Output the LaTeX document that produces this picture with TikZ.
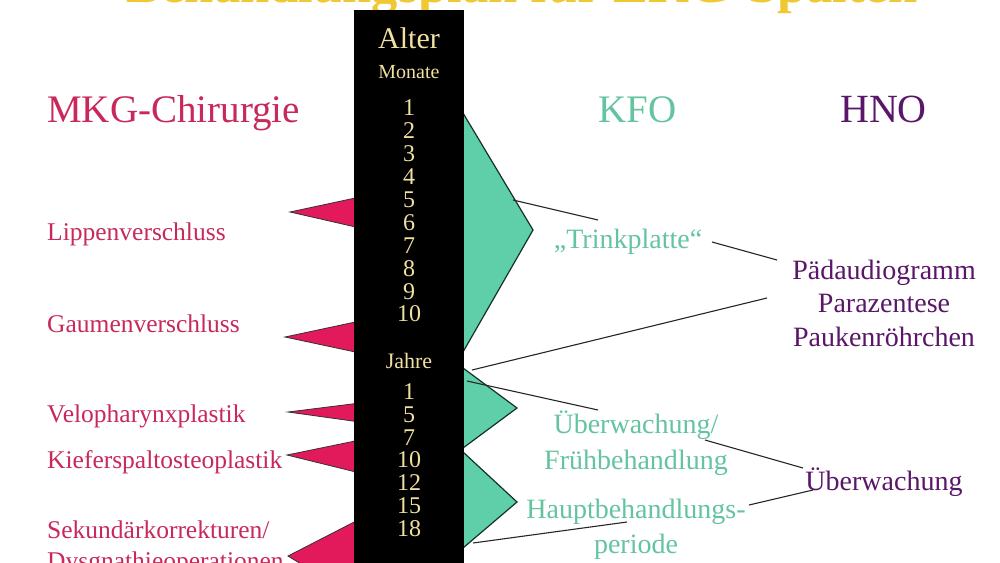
\documentclass[tikz,border=0pt]{standalone}
\usepackage{fontspec}
\setmainfont{Liberation Serif}
\definecolor{mkgtext}{RGB}{200,40,90}
\definecolor{trifill}{RGB}{226,26,92}
\definecolor{kfofill}{RGB}{95,207,170}
\definecolor{kfotext}{RGB}{100,196,160}
\definecolor{hnotext}{RGB}{90,22,105}
\definecolor{cream}{RGB}{240,225,160}
\definecolor{titleyellow}{RGB}{240,200,50}
\definecolor{darkline}{RGB}{20,50,35}
\begin{document}
\begin{tikzpicture}[x=1pt,y=-1pt,
  lbl/.style={inner sep=0pt, anchor=base west, font=\fontsize{25.5}{27}\selectfont},
  mkg/.style={lbl, text=mkgtext},
  kfolbl/.style={inner sep=0pt, anchor=base, align=center, font=\fontsize{28}{32}\selectfont, text=kfotext},
  hnolbl/.style={inner sep=0pt, anchor=base, align=center, font=\fontsize{28}{32}\selectfont, text=hnotext},
  head/.style={inner sep=0pt, anchor=base west, font=\fontsize{39}{40}\selectfont},
  num/.style={inner sep=0pt, text=cream, font=\fontsize{24}{24}\selectfont},
  tri/.style={fill=trifill, draw=black!80, line width=0.8pt},
  kfoshape/.style={fill=kfofill, draw=darkline, line width=1.2pt},
  conn/.style={draw=black!85, line width=1.1pt}]
\useasboundingbox (0,0) rectangle (1000,562);
\begin{scope}
\clip (0,0) rectangle (1000,562);
\fill[white] (0,0) rectangle (1000,562);
% title (cut off at the top)
\node[inner sep=0pt, anchor=base, text=titleyellow, font=\bfseries\fontsize{52.5}{52}\selectfont] (title) at (522,2) {Behandlungsplan für LKG-Spalten};
% magenta wedges
\path[tri] (360,197) -- (290,212) -- (360,228) -- cycle;
\path[tri] (360,321) -- (285,337) -- (360,353) -- cycle;
\path[tri] (360,403) -- (288,412) -- (360,422) -- cycle;
\path[tri] (360,440) -- (287,455) -- (360,473) -- cycle;
\path[tri] (360,519) -- (288,556) -- (360,600) -- cycle;
% teal wedges
\path[kfoshape] (463,113) -- (533,230) -- (463,352) -- (455,352) -- (455,113) -- cycle;
\path[kfoshape] (463,368) -- (517,408) -- (463,448) -- (455,448) -- (455,368) -- cycle;
\path[kfoshape] (463,452) -- (517,502) -- (463,548) -- (455,548) -- (455,452) -- cycle;
% black age bar
\node[fill=black, inner sep=0pt, minimum width=110pt, minimum height=570pt, anchor=north west] (bar) at (354,10) {};
\node[num, anchor=base, font=\fontsize{30}{30}\selectfont] (alter) at (409,48) {Alter};
\node[num, anchor=base, font=\fontsize{20}{20}\selectfont] (monate) at (409,78) {Monate};
\foreach \n [count=\k from 0] in {1,2,3,4,5,6,7,8,9,10}
  \node[num] (m\n) at (409,{108+22.9*\k}) {\n};
\node[num, anchor=base, font=\fontsize{22}{22}\selectfont] (jahre) at (409,368) {Jahre};
\foreach \n [count=\k from 0] in {1,5,7,10,12,15,18}
  \node[num] (j\n) at (409,{392+22.7*\k}) {\n};
% column heads
\node[head, text=mkgtext] (hmkg) at (47,122) {MKG-Chirurgie};
\node[head, text=kfotext] (hkfo) at (598,122) {KFO};
\node[head, text=hnotext, font=\fontsize{40}{40}\selectfont] (hhno) at (840,122) {HNO};
% MKG labels
\node[mkg] (lip) at (47,240) {Lippenverschluss};
\node[mkg] (gau) at (47,332) {Gaumenverschluss};
\node[mkg] (vel) at (47,422) {Velopharynxplastik};
\node[mkg] (kie) at (47,468) {Kieferspaltosteoplastik};
\node[mkg] (sek) at (47,538) {Sekundärkorrekturen/};
\node[mkg] (dys) at (47,569) {Dysgnathieoperationen};
% KFO labels
\node[kfolbl] (trink) at (628,248) {„Trinkplatte“};
\node[kfolbl] (ueb) at (636,433) {Überwachung/};
\node[kfolbl] (frueh) at (636,469) {Frühbehandlung};
\node[kfolbl] (haupt) at (636,518) {Hauptbehandlungs-};
\node[kfolbl] (period) at (636,553) {periode};
% HNO labels
\node[hnolbl] (paed) at (884,279) {Pädaudiogramm};
\node[hnolbl] (para) at (884,312) {Parazentese};
\node[hnolbl] (pauk) at (884,346) {Paukenröhrchen};
\node[hnolbl] (uebh) at (884,490) {Überwachung};
% connectors
\coordinate (a1) at (513,200);
\coordinate (a2) at (598,220);
\coordinate (b1) at (712,242);
\coordinate (b2) at (777,260);
\coordinate (c1) at (472,370);
\coordinate (c2) at (767,298);
\coordinate (d1) at (467,381);
\coordinate (d2) at (598,410);
\coordinate (e1) at (705,440);
\coordinate (e2) at (803,468);
\coordinate (f1) at (749,505);
\coordinate (f2) at (813,490);
\coordinate (g1) at (473,543);
\coordinate (g2) at (627,522);
\draw[conn] (a1) -- (a2);
\draw[conn] (b1) -- (b2);
\draw[conn] (c1) -- (c2);
\draw[conn] (d1) -- (d2);
\draw[conn] (e1) -- (e2);
\draw[conn] (f1) -- (f2);
\draw[conn] (g1) -- (g2);
\end{scope}
\end{tikzpicture}
\end{document}
